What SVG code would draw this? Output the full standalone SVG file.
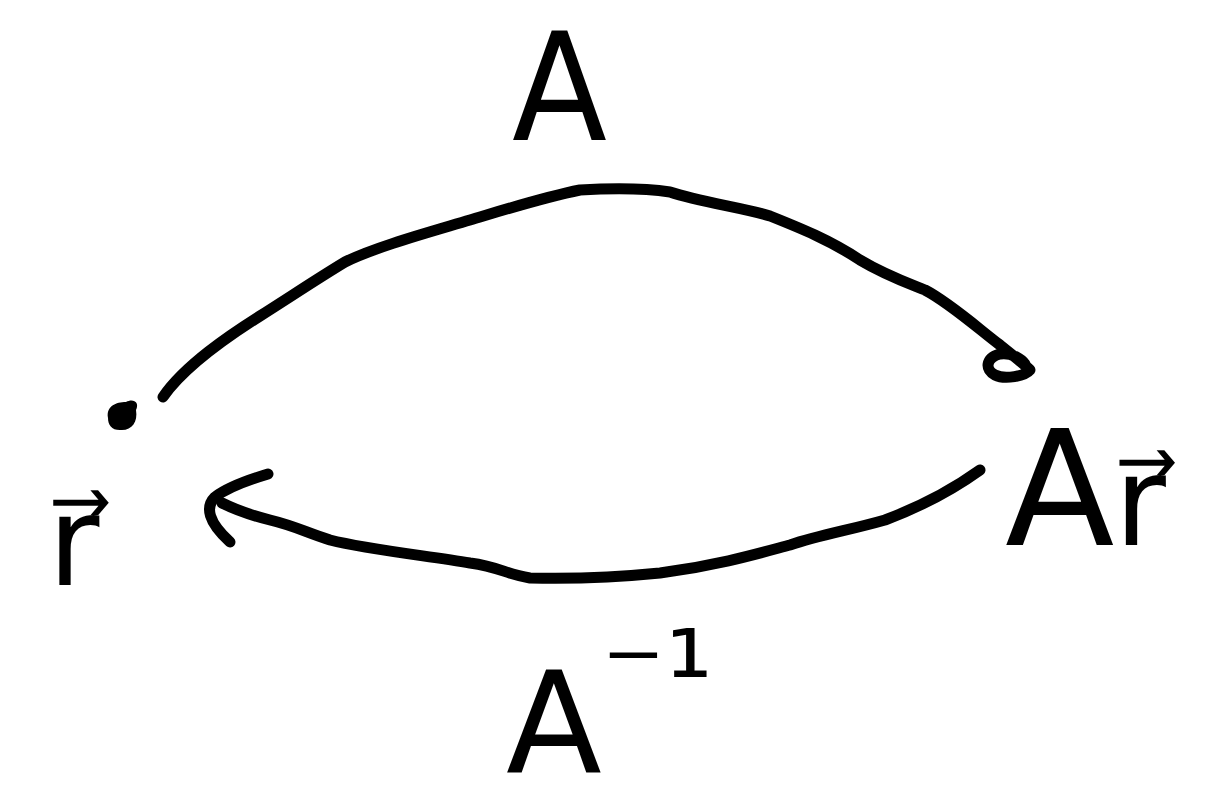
<svg xmlns="http://www.w3.org/2000/svg" width="1215" height="806" viewBox="0 0 1215 806">
<style>
.ln{fill:none;stroke:#000;stroke-width:11;stroke-linecap:round;stroke-linejoin:round}
.lb{font-family:"DejaVu Sans","Liberation Sans",sans-serif;fill:#000}
</style>
<rect width="1215" height="806" fill="#fff"/>
<g id="connectors">
<path id="forward" class="ln" d="M163,397 C185,365 230,335 260,316 C290,297 320,277 345,262 C375,247 430,232 470,220 C510,208 545,197 580,190 C615,188 650,189 670,192 C700,202 745,208 770,216 C800,228 830,240 860,260 C885,275 905,282 925,290 C950,303 980,330 1000,345 C1015,357 1028,368 1030,370 C1025,376 1005,380 995,375 C985,370 985,358 1000,354 C1012,352 1022,360 1025,364"/>
<path id="backward" class="ln" d="M980,470 C955,488 925,505 885,520 C850,530 820,535 790,545 C760,553 720,565 660,573 C620,577 570,579 530,578 C505,574 500,567 470,563 C430,556 370,550 330,540 C305,532 295,526 270,520 C250,515 232,508 222,503"/>
<path id="backward-head" class="ln" d="M268,474 C248,480 228,487 215,497 C205,507 208,522 230,542"/>
</g>
<g id="node-r">
<path d="M108,418 C106,406 116,402 126,402 C133,398 140,402 136,410 C138,422 132,430 122,430 C112,431 108,425 108,418 Z" fill="#000"/>
<text class="lb" x="48" y="585" font-size="125">r⃗</text>
</g>
<g id="node-Ar">
<text class="lb" x="1005" y="545"><tspan font-size="160">A</tspan><tspan font-size="125">r⃗</tspan></text>
</g>
<g id="label-A">
<text class="lb" x="512" y="140" font-size="150" textLength="95" lengthAdjust="spacingAndGlyphs">A</text>
</g>
<g id="label-Ainv">
<text class="lb" x="506" y="772" font-size="140">A<tspan font-size="120" y="716">⁻¹</tspan></text>
</g>
</svg>
